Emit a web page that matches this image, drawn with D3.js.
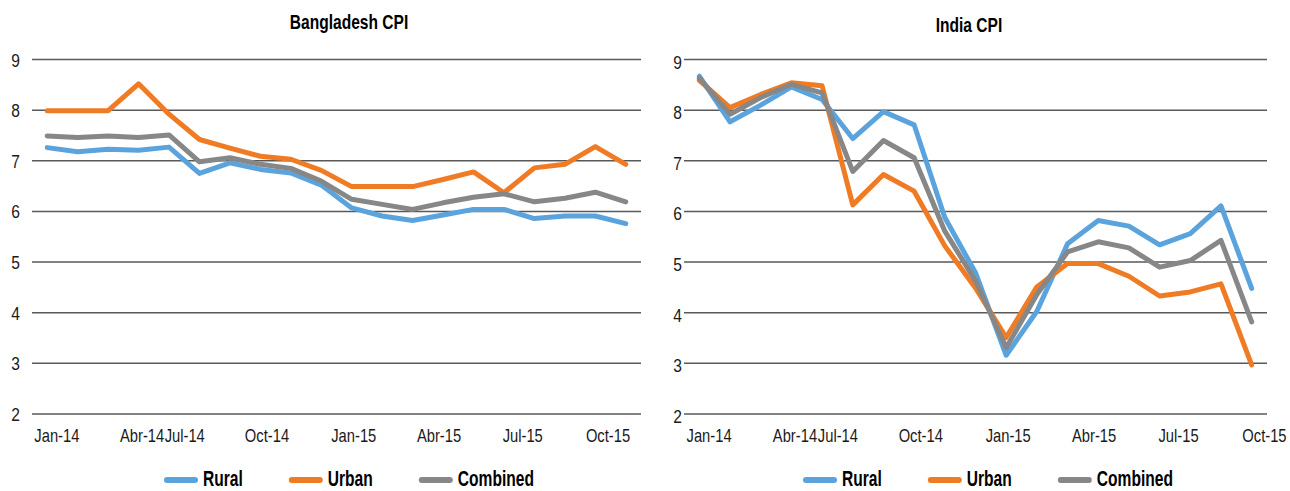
<!DOCTYPE html>
<html>
<head>
<meta charset="utf-8">
<script src="https://cdn.jsdelivr.net/npm/d3@7"></script>
<style>
  html, body { margin: 0; padding: 0; background: #fff; }
  svg { display: block; }
</style>
</head>
<body>
<svg id="chart" width="1290" height="491"></svg>
<script>
// Monthly CPI inflation (%), Bangladesh: 20 months starting Jan-14
const bdRural    = [7.25, 7.17, 7.22, 7.20, 7.26, 6.74, 6.95, 6.82, 6.75, 6.51, 6.06, 5.90, 5.81, 5.92, 6.03, 6.03, 5.85, 5.90, 5.90, 5.75];
const bdUrban    = [7.98, 7.98, 7.98, 8.51, 7.91, 7.41, 7.24, 7.08, 7.02, 6.80, 6.48, 6.48, 6.48, 6.62, 6.77, 6.36, 6.85, 6.92, 7.27, 6.92];
const bdCombined = [7.48, 7.45, 7.48, 7.45, 7.50, 6.97, 7.05, 6.92, 6.84, 6.59, 6.23, 6.13, 6.03, 6.16, 6.27, 6.34, 6.18, 6.25, 6.37, 6.18];

// Monthly CPI inflation (%), India: 19 months starting Jan-14
const inRural    = [8.66, 7.76, 8.09, 8.45, 8.20, 7.43, 7.96, 7.70, 5.87, 4.78, 3.15, 4.02, 5.35, 5.81, 5.70, 5.33, 5.55, 6.10, 4.47];
const inUrban    = [8.58, 8.04, 8.30, 8.53, 8.47, 6.12, 6.72, 6.39, 5.31, 4.48, 3.50, 4.50, 4.96, 4.96, 4.71, 4.32, 4.40, 4.56, 2.96];
const inCombined = [8.62, 7.91, 8.24, 8.50, 8.33, 6.78, 7.39, 7.05, 5.60, 4.62, 3.30, 4.35, 5.19, 5.39, 5.27, 4.89, 5.02, 5.42, 3.81];

const yTicks = [2, 3, 4, 5, 6, 7, 8, 9];
const xTickLabels = ["Jan-14", "Abr-14", "Jul-14", "Oct-14", "Jan-15", "Abr-15", "Jul-15", "Oct-15"];
// label anchors, in month-index units along the category axis
const xTickAt = [0.3, 3.1, 4.5, 7.2, 10.05, 12.85, 15.6, 18.4];

const seriesNames  = ["Rural", "Urban", "Combined"];
const seriesColors = ["#5BA3DC", "#F07B25", "#878787"];

// Pick a narrow face if one is installed, otherwise squeeze a regular one.
function hasFont(name) {
  const ctx = document.createElement("canvas").getContext("2d");
  const s = "Combined 0123456789 Abr-14";
  ctx.font = "20px monospace";
  const a = ctx.measureText(s).width;
  ctx.font = `20px "${name}", monospace`;
  return ctx.measureText(s).width !== a;
}
const NARROW = hasFont("Liberation Sans Narrow");
const FAMILY = NARROW ? '"Liberation Sans Narrow", sans-serif' : '"Liberation Sans", Arial, sans-serif';
const SX = NARROW ? 1 : 0.82;

const svg = d3.select("#chart");

function addText(g, x, y, str, opt) {
  const o = Object.assign({ size: 18, weight: "normal", anchor: "start", sy: 1, fill: "#1a1a1a" }, opt);
  return g.append("text")
    .attr("transform", `translate(${x},${y}) scale(${SX},${o.sy})`)
    .attr("text-anchor", o.anchor)
    .style("font-family", FAMILY)
    .style("font-size", o.size + "px")
    .style("font-weight", o.weight)
    .style("fill", o.fill)
    .text(str);
}

function drawPanel(cfg) {
  const g = svg.append("g");
  const n = cfg.series[0].length;

  const x = d3.scaleLinear().domain([-0.5, n - 0.5]).range([cfg.x0, cfg.x1]);
  const y = d3.scaleLinear().domain([2, 9]).range([413.5, 59]);

  // horizontal gridlines with value labels
  const yAxis = g.append("g")
    .attr("transform", `translate(${cfg.x0},0)`)
    .call(d3.axisLeft(y).tickValues(yTicks).tickSize(-(cfg.x1 - cfg.x0)).tickFormat(d3.format("d")));
  yAxis.select(".domain").remove();
  yAxis.selectAll(".tick line").attr("stroke", "#595959").attr("stroke-width", 1.5);
  yAxis.selectAll(".tick text")
    .attr("x", null).attr("dy", null)
    .attr("transform", `translate(${cfg.yLabelEnd - cfg.x0},${cfg.yLabelDy}) scale(${SX},1)`)
    .attr("text-anchor", "end")
    .style("font-family", FAMILY).style("font-size", "19px").style("fill", "#1a1a1a");

  // category labels along the bottom
  const xAxis = g.append("g")
    .attr("transform", "translate(0,413.5)")
    .call(d3.axisBottom(x).tickValues(xTickAt).tickSize(0).tickFormat((d, i) => xTickLabels[i]));
  xAxis.select(".domain").remove();
  xAxis.selectAll(".tick text")
    .attr("y", null).attr("dy", null)
    .attr("transform", `translate(0,28.5) scale(${SX},1)`)
    .style("font-family", FAMILY).style("font-size", "18px").style("fill", "#1a1a1a");

  // series lines: rural, urban, then combined on top
  const line = d3.line().x((d, i) => x(i)).y(d => y(d));
  cfg.series.forEach((vals, k) => {
    g.append("path")
      .datum(vals)
      .attr("d", line)
      .attr("fill", "none")
      .attr("stroke", seriesColors[k])
      .attr("stroke-width", 5)
      .attr("stroke-linejoin", "round")
      .attr("stroke-linecap", "round");
  });

  // title
  addText(g, cfg.titleX, cfg.titleY, cfg.title, { size: 19, weight: "bold", anchor: "middle", sy: 1.05, fill: "#000" });

  // legend
  let lx = cfg.legendX;
  const ly = 480;
  seriesNames.forEach((name, k) => {
    g.append("line")
      .attr("x1", lx).attr("x2", lx + 28)
      .attr("y1", ly).attr("y2", ly)
      .attr("stroke", seriesColors[k])
      .attr("stroke-width", 6)
      .attr("stroke-linecap", "round");
    const t = addText(g, lx + 36, 485.5, name, { size: 19, weight: "bold", sy: 1.2, fill: "#000" });
    const w = t.node().getComputedTextLength() * SX;
    lx += 36 + w + 49;
  });
}

drawPanel({
  title: "Bangladesh CPI",
  series: [bdRural, bdUrban, bdCombined],
  x0: 32, x1: 641,
  yLabelEnd: 20, yLabelDy: 7,
  titleX: 349, titleY: 28.5,
  legendX: 167
});

drawPanel({
  title: "India CPI",
  series: [inRural, inUrban, inCombined],
  x0: 684, x1: 1267,
  yLabelEnd: 682, yLabelDy: 9,
  titleX: 969, titleY: 31.5,
  legendX: 806
});
</script>
</body>
</html>
